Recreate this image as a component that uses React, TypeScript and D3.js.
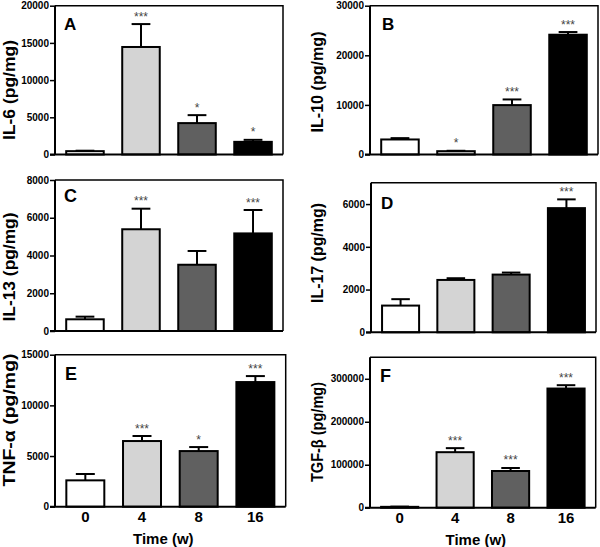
import React, { useEffect, useRef } from "react";
import * as d3 from "d3";

const timePoints = ["0", "4", "8", "16"];
const barFills = ["#ffffff", "#d4d4d4", "#606060", "#000000"];

// values (mean and SEM)
const il6Mean = [450, 14450, 4220, 1700];
const il6Sem = [60, 3080, 1070, 270];
const il6Stars = ["", "***", "*", "*"];

const il10Mean = [3030, 670, 9960, 24150];
const il10Sem = [270, 80, 1140, 540];
const il10Stars = ["", "*", "***", "***"];

const il13Mean = [620, 5390, 3510, 5170];
const il13Sem = [140, 1090, 730, 1240];
const il13Stars = ["", "***", "", "***"];

const il17Mean = [1250, 2450, 2700, 5810];
const il17Sem = [300, 80, 95, 410];
const il17Stars = ["", "", "", "***"];

const tnfMean = [2600, 6480, 5490, 12300];
const tnfSem = [625, 495, 395, 590];
const tnfStars = ["", "***", "*", "***"];

const tgfMean = [2000, 129200, 85400, 277300];
const tgfSem = [500, 9400, 7000, 7800];
const tgfStars = ["", "***", "***", "***"];

const il6Ticks = [0, 5000, 10000, 15000, 20000];
const il10Ticks = [0, 10000, 20000, 30000];
const il13Ticks = [0, 2000, 4000, 6000, 8000];
const il17Ticks = [0, 2000, 4000, 6000];
const tnfTicks = [0, 5000, 10000, 15000];
const tgfTicks = [0, 100000, 200000, 300000];

const FONT = "'Liberation Sans', Arial, sans-serif";
const NARROW = "'Liberation Sans Narrow', 'Liberation Sans', sans-serif";

const panels = [
  { letter: "A", title: "IL-6 (pg/mg)", mean: il6Mean, sem: il6Sem, stars: il6Stars, ticks: il6Ticks, max: 20000,
    box: [55, 283, 154.5, 5.7], titlePos: [9, 90, 100], letterPos: [64, 30], narrow: false, xLabels: false },
  { letter: "B", title: "IL-10 (pg/mg)", mean: il10Mean, sem: il10Sem, stars: il10Stars, ticks: il10Ticks, max: 30000,
    box: [370, 598, 154.5, 5.7], titlePos: [317, 82, 101], letterPos: [382, 30], narrow: false, xLabels: false },
  { letter: "C", title: "IL-13 (pg/mg)", mean: il13Mean, sem: il13Sem, stars: il13Stars, ticks: il13Ticks, max: 8000,
    box: [55, 283, 331, 180], titlePos: [9, 267, 109], letterPos: [64, 202], narrow: true, xLabels: false },
  { letter: "D", title: "IL-17 (pg/mg)", mean: il17Mean, sem: il17Sem, stars: il17Stars, ticks: il17Ticks, max: 7000,
    box: [371, 596, 332.3, 182.7], titlePos: [317, 253, 100], letterPos: [381, 209], narrow: false, xLabels: false },
  { letter: "E", title: "TNF-\u03b1 (pg/mg)", mean: tnfMean, sem: tnfSem, stars: tnfStars, ticks: tnfTicks, max: 15000,
    box: [55, 285.7, 506.7, 354.7], titlePos: [9, 420, 133], letterPos: [65, 380], narrow: true, xLabels: true },
  { letter: "F", title: "TGF-\u03b2 (pg/mg)", mean: tgfMean, sem: tgfSem, stars: tgfStars, ticks: tgfTicks, max: 350000,
    box: [370, 595.7, 507.7, 357.3], titlePos: [317, 432, 100], letterPos: [380, 382], narrow: true, xLabels: true },
];

const App = () => {
  const ref = useRef<SVGSVGElement>(null);

  useEffect(() => {
    const svg = d3.select(ref.current);
    svg.selectAll("*").remove();

    panels.forEach((p) => {
      const [x0, x1, yBottom, yTop] = p.box;
      const x = d3.scaleBand().domain(timePoints).range([x0, x1]).paddingInner(0.33).paddingOuter(0.2);
      const y = d3.scaleLinear().domain([0, p.max]).range([yBottom, yTop]);
      const g = svg.append("g");

      // bars
      g.selectAll("rect.bar")
        .data(p.mean)
        .join("rect")
        .attr("class", "bar")
        .attr("x", (_, i) => x(timePoints[i])!)
        .attr("y", (d) => y(d))
        .attr("width", x.bandwidth())
        .attr("height", (d) => yBottom - y(d))
        .attr("fill", (_, i) => barFills[i])
        .attr("stroke", "#000")
        .attr("stroke-width", 2);

      // error bars (upper only)
      const cap = x.bandwidth() / 2;
      p.mean.forEach((m, i) => {
        const cx = x(timePoints[i])! + x.bandwidth() / 2;
        const top = y(m + p.sem[i]);
        g.append("line").attr("x1", cx).attr("x2", cx).attr("y1", y(m)).attr("y2", top)
          .attr("stroke", "#000").attr("stroke-width", 2);
        g.append("line").attr("x1", cx - cap / 2).attr("x2", cx + cap / 2).attr("y1", top).attr("y2", top)
          .attr("stroke", "#000").attr("stroke-width", 2);
        if (p.stars[i]) {
          g.append("text").attr("x", cx).attr("y", top - 3.5)
            .attr("text-anchor", "middle").attr("font-family", FONT).attr("font-size", 12)
            .attr("fill", "#444").text(p.stars[i]);
        }
      });

      // frame (top + right)
      g.append("path")
        .attr("d", `M${x0},${yTop}H${x1}V${yBottom}`)
        .attr("fill", "none").attr("stroke", "#000").attr("stroke-width", 1.5);

      // y axis
      const yAxis = g.append("g").attr("transform", `translate(${x0},0)`)
        .call(d3.axisLeft(y).tickValues(p.ticks).tickSize(5).tickPadding(1).tickSizeOuter(0).tickFormat(d3.format("d")));
      yAxis.select(".domain").attr("stroke-width", 2).attr("d", `M0,${yTop}V${yBottom}`);
      yAxis.selectAll(".tick line").attr("stroke-width", 1.5);
      yAxis.selectAll(".tick text").attr("font-family", FONT).attr("font-size", 10)
        .attr("font-weight", "bold").attr("fill", "#000");

      // x axis baseline
      g.append("line").attr("x1", x0 - 5).attr("x2", x1).attr("y1", yBottom).attr("y2", yBottom)
        .attr("stroke", "#000").attr("stroke-width", 2);

      if (p.xLabels) {
        timePoints.forEach((t) => {
          g.append("text").attr("x", x(t)! + x.bandwidth() / 2).attr("y", yBottom + 15)
            .attr("text-anchor", "middle").attr("font-family", FONT).attr("font-size", 15)
            .attr("font-weight", "bold").text(t);
        });
        g.append("text").attr("x", (x0 + x1) / 2 - 7).attr("y", yBottom + 37)
          .attr("text-anchor", "middle").attr("font-family", FONT).attr("font-size", 15)
          .attr("font-weight", "bold").text("Time (w)");
      }

      // y title
      const [tx, ty, tl] = p.titlePos;
      g.append("text")
        .attr("transform", `translate(${tx},${ty}) rotate(-90)`)
        .attr("text-anchor", "middle").attr("dominant-baseline", "central")
        .attr("font-family", FONT).attr("font-size", 16).attr("font-weight", "bold")
        .attr("textLength", tl).attr("lengthAdjust", "spacingAndGlyphs")
        .text(p.title);

      // panel letter
      g.append("text").attr("x", p.letterPos[0]).attr("y", p.letterPos[1])
        .attr("font-family", p.narrow ? NARROW : FONT).attr("font-size", p.narrow ? 18 : 17)
        .attr("font-weight", "bold").text(p.letter);
    });
  }, []);

  return (
    <svg ref={ref} width={600} height={547}
      style={{ position: "absolute", left: 0, top: 0, background: "#fff" }} />
  );
};

export default App;
